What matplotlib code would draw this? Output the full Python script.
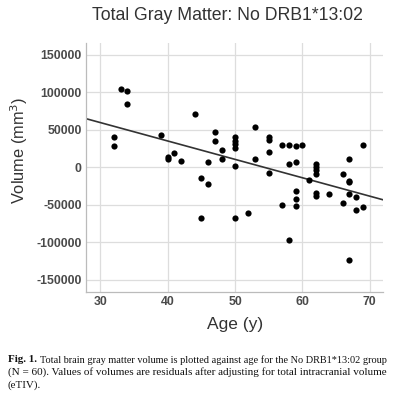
import matplotlib
matplotlib.use('Agg')
import matplotlib.pyplot as plt
import numpy as np

# ages (years) and gray matter volume residuals (mm^3)
age = [32, 32, 33, 34, 34, 39, 40, 40, 41, 42, 44, 45, 45, 46, 46, 47, 47, 48, 48,
       50, 50, 50, 50, 50, 50, 52, 53, 53, 55, 55, 55, 55, 57, 57, 58, 58, 58,
       59, 59, 59, 59, 59, 60, 61, 62, 62, 62, 62, 62, 62, 64, 66, 66,
       67, 67, 67, 67, 67, 68, 68, 69, 69]
volume = [40400, 28000, 104800, 101700, 84800, 43500, 13300, 10700, 19500, 8600,
          71000, -13800, -67600, -22700, 6700, 46700, 35000, 23000, 10700,
          40000, 35500, 30700, 26100, 1700, -68000, -61400, 54100, 10700,
          41000, 36500, 21000, -7300, 29700, -50500, 30000, 4000, -97200,
          29000, 6500, -31500, -42500, -51300, 30000, -17000,
          4600, 500, -4000, -8500, -34000, -38000, -35000, -9300, -47800,
          11500, -18000, -20000, -36000, -123600, -39200, -56500, 29700, -53200]

x_ticks = [30, 40, 50, 60, 70]
y_ticks = [-150000, -100000, -50000, 0, 50000, 100000, 150000]

title = 'Total Gray Matter: No DRB1*13:02'
caption_lines = ['Total brain gray matter volume is plotted against age for the No DRB1*13:02 group',
                 '(N = 60). Values of volumes are residuals after adjusting for total intracranial volume',
                 '(eTIV).']

plt.rcParams['font.family'] = ['Liberation Sans', 'DejaVu Sans']

W, H = 405, 396
fig = plt.figure(figsize=(W / 100, H / 100), dpi=100)
ax = fig.add_axes([85.7 / W, 1 - 292 / H, 297.3 / W, 249.3 / H])

ax.scatter(age, volume, s=20, color='black', zorder=3, linewidths=0)

# linear fit line across full x range
slope, intercept = np.polyfit(age, volume, 1)
xlim = (27.8, 72.0)
xs = np.array(xlim)
ax.plot(xs, intercept + slope * xs, color='#333333', lw=1.2, zorder=2)

ax.set_xlim(*xlim)
ax.set_ylim(-166000, 166000)
ax.set_xticks(x_ticks)
ax.set_yticks(y_ticks)
ax.set_yticklabels([str(v) for v in y_ticks])
ax.grid(True, color='#dddddd', lw=0.9)
ax.set_axisbelow(True)
ax.tick_params(length=0, labelsize=8.8, colors='#4a4a4a', pad=3)
for lab in ax.get_xticklabels() + ax.get_yticklabels():
    lab.set_fontweight('bold')
for side in ['top', 'right']:
    ax.spines[side].set_visible(False)
for side in ['left', 'bottom']:
    ax.spines[side].set_color('#bbbbbb')
    ax.spines[side].set_linewidth(0.9)

fig.text(227 / W, 1 - 16 / H, title, fontsize=12.7, color='#333333', ha='center', va='center')
fig.text(235 / W, 1 - 325 / H, 'Age (y)', fontsize=12.5, color='#333333', ha='center', va='center')
fig.text(19 / W, 1 - 150 / H, 'Volume (mm$^3$)', fontsize=11.8, color='#333333',
         rotation=90, ha='center', va='center')

# caption below the chart, lines 1-2 fitted to the text block width (justified look)
cap_kw = dict(family='Liberation Serif', va='center', ha='left', color='#111111')
renderer = fig.canvas.get_renderer()
right_edge = 388
fig_lbl = fig.text(8 / W, 1 - 360 / H, 'Fig. 1.', fontweight='bold', fontsize=7.9, **cap_kw)
bb = fig_lbl.get_window_extent(renderer)
starts = [bb.x1 + 3, 8, 8]
rows = [360, 372.5, 385]
for i, (line, x0, row) in enumerate(zip(caption_lines, starts, rows)):
    t = fig.text(x0 / W, 1 - row / H, line, fontsize=7.9, **cap_kw)
    if i < 2:
        ext = t.get_window_extent(renderer)
        t.set_fontsize(7.9 * (right_edge - x0) / ext.width)

fig.savefig('out.png', dpi=100)
